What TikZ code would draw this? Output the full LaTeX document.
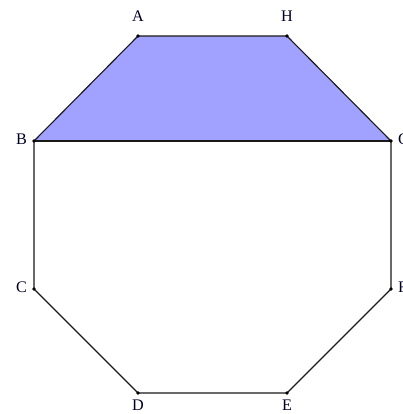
\documentclass[tikz,border=0pt]{standalone}
\usepackage{fontspec}
\setmainfont{Liberation Serif}
\tikzset{
  vdot/.style={circle, fill=black, inner sep=0pt, minimum size=2.6pt},
  edge/.style={draw=black!90, line width=0.8pt},
  topface/.style={fill=blue!37},
  every label/.style={font=\fontsize{11.5}{13}\selectfont, text=black!85!blue},
  up/.style={label={[label distance=5pt]above:#1}},
  down/.style={label={[label distance=0pt]below:#1}},
  lft/.style={label={[label distance=0pt, yshift=1.5pt]left:#1}},
  rgt/.style={label={[label distance=0pt, yshift=1.5pt]right:#1}},
}
\begin{document}
\begin{tikzpicture}
  \useasboundingbox (0,0) rectangle (10.075,10.35);
  \coordinate (A) at (3.45,9.45);
  \coordinate (H) at (7.175,9.45);
  \coordinate (G) at (9.775,6.825);
  \coordinate (F) at (9.775,3.125);
  \coordinate (E) at (7.175,0.525);
  \coordinate (D) at (3.45,0.525);
  \coordinate (C) at (0.85,3.125);
  \coordinate (B) at (0.85,6.825);
  \fill[topface] (A) -- (H) -- (G) -- (B) -- cycle;
  \draw[edge] (A) -- (H) -- (G) -- (F) -- (E) -- (D) -- (C) -- (B) -- cycle;
  \draw[edge] (B) -- (G);
  \node[vdot, up=A] at (A) {};
  \node[vdot, up=H] at (H) {};
  \node[vdot, rgt=G] at (G) {};
  \node[vdot, rgt=F] at (F) {};
  \node[vdot, down=E] at (E) {};
  \node[vdot, down=D] at (D) {};
  \node[vdot, lft=C] at (C) {};
  \node[vdot, lft=B] at (B) {};
\end{tikzpicture}
\end{document}
